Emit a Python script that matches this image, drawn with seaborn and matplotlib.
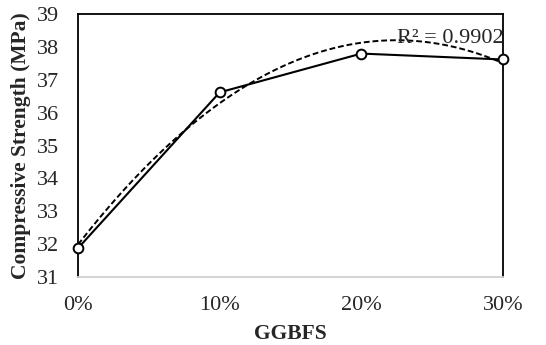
import numpy as np
import pandas as pd
import seaborn as sns
import matplotlib.pyplot as plt

sns.set_style('white')
plt.rcParams['font.family'] = ['Liberation Serif', 'DejaVu Serif']

# 데이터
ggbfs = [0, 10, 20, 30]
labels = ['0%', '10%', '20%', '30%']
strength = [31.88, 36.62, 37.8, 37.62]

df = pd.DataFrame({'ggbfs': ggbfs, 'strength': strength})

fig, ax = plt.subplots(figsize=(5.46, 3.45), dpi=100)

# 2차 추세선 (점선)
sns.regplot(data=df, x='ggbfs', y='strength', order=2, ci=None, scatter=False,
            line_kws={'color': 'black', 'linestyle': (0, (3, 1.5)), 'linewidth': 1.4}, ax=ax)

# 실측값 (실선 + 흰 원)
sns.lineplot(data=df, x='ggbfs', y='strength', color='black', linewidth=1.5,
             marker='o', markersize=7, markerfacecolor='white', markeredgecolor='black',
             markeredgewidth=1.4, ax=ax, zorder=5, clip_on=False)

# 추세선 R²
ax.text(26.3, 38.12, 'R² = 0.9902', fontsize=16, ha='center', va='baseline')

ax.set_xlim(0, 30)
ax.set_ylim(31, 39)
ax.set_xticks(ggbfs)
ax.set_xticklabels(labels)
ax.set_yticks(range(31, 40))
ax.tick_params(axis='both', labelsize=16, length=0, pad=14)

for side in ['left', 'top', 'right']:
    ax.spines[side].set_color('black')
    ax.spines[side].set_linewidth(1.3)
ax.spines['bottom'].set_color('#d0d0d0')
ax.spines['bottom'].set_linewidth(1.3)

ax.set_xlabel('GGBFS', fontsize=15.5, fontweight='bold', labelpad=6)
ax.set_ylabel('Compressive Strength (MPa)', fontsize=15.5, fontweight='bold', labelpad=4)

plt.subplots_adjust(left=0.143, right=0.921, top=0.959, bottom=0.197)
plt.savefig('out.png', dpi=100)
